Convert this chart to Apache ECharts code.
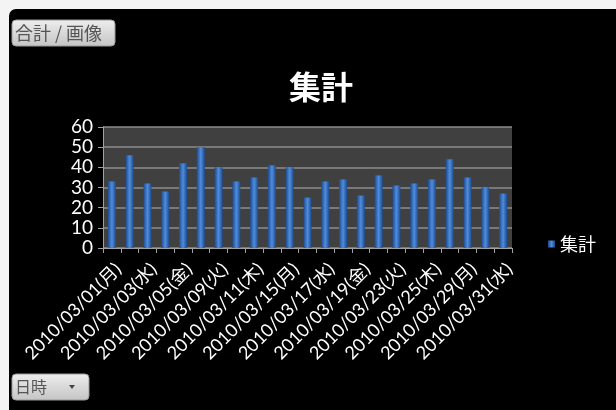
<!DOCTYPE html>
<html>
<head>
<meta charset="utf-8">
<script src="https://cdn.jsdelivr.net/npm/echarts@6/dist/echarts.min.js"></script>
<style>
html,body{margin:0;padding:0;background:#f4f4f4;}
#chart{width:616px;height:410px;}
</style>
</head>
<body>
<div id="chart"></div>
<script>
var categories = ['2010/03/01(月)','2010/03/02(火)','2010/03/03(水)','2010/03/04(木)','2010/03/05(金)',
  '2010/03/08(月)','2010/03/09(火)','2010/03/10(水)','2010/03/11(木)','2010/03/12(金)',
  '2010/03/15(月)','2010/03/16(火)','2010/03/17(水)','2010/03/18(木)','2010/03/19(金)',
  '2010/03/22(月)','2010/03/23(火)','2010/03/24(水)','2010/03/25(木)','2010/03/26(金)',
  '2010/03/29(月)','2010/03/30(火)','2010/03/31(水)'];
var totals = [33,46,32,28,42,50,40,33,35,41,40,25,33,34,26,36,31,32,34,44,35,30,27];
var seriesName = '集計';
var titleText = '集計';
var fieldButton = '合計 / 画像';
var axisButton = '日時';

var font = "Lato, 'Noto Sans CJK JP', sans-serif";
var chart = echarts.init(document.getElementById('chart'));
var barColor = new echarts.graphic.LinearGradient(0,0,1,0,[
  {offset:0,color:'#1d4a8f'},{offset:0.5,color:'#4f8ddc'},{offset:1,color:'#1d4a8f'}]);
var btnFill = new echarts.graphic.LinearGradient(0,0,0,1,[
  {offset:0,color:'#eeeeee'},{offset:1,color:'#c4c4c4'}]);

chart.setOption({
  backgroundColor: '#f4f4f4',
  animation: false,
  graphic: [
    {type:'rect', shape:{x:9,y:9,width:620,height:410,r:[7,0,0,0]}, style:{fill:'#000'}, z:-10},
    {type:'rect', shape:{x:12,y:20,width:103,height:26,r:4}, style:{fill:btnFill, stroke:'#999', lineWidth:1}},
    {type:'text', x:15, y:33, style:{text:fieldButton, fill:'#555', font:"18px 'Noto Sans CJK JP'", verticalAlign:'middle'}},
    {type:'rect', shape:{x:12,y:374,width:77,height:26,r:4}, style:{fill:btnFill, stroke:'#999', lineWidth:1}},
    {type:'text', x:15, y:387, style:{text:axisButton, fill:'#555', font:"16px 'Noto Sans CJK JP'", verticalAlign:'middle'}},
    {type:'polygon', shape:{points:[[69,385],[75,385],[72,389]]}, style:{fill:'#444'}}
  ],
  title: {
    text: titleText, left: 284, top: 66,
    textStyle: {color:'#fff', fontSize: 32, fontWeight:'bold', fontFamily:"'Noto Sans CJK JP'"}
  },
  legend: {
    data:[{name:seriesName, icon:'rect'}], left: 543, top: 230, orient:'vertical',
    itemWidth: 7, itemHeight: 7, itemGap: 4,
    textStyle:{color:'#fff', fontSize:18, fontFamily:"'Noto Sans CJK JP'"}
  },
  grid: {left:103, right:104, top:127, bottom:162, show:true, backgroundColor:'#404040', borderWidth:0},
  xAxis: {
    type:'category', data: categories,
    axisLine:{lineStyle:{color:'#a0a0a0'}},
    axisTick:{show:true, interval:0, length:5, lineStyle:{color:'#a0a0a0'}},
    axisLabel:{interval:1, rotate:45, color:'#fff', fontSize:18, fontFamily:font, margin:12, verticalAlign:'top'}
  },
  yAxis: {
    type:'value', min:0, max:60, interval:10,
    axisLine:{show:true, lineStyle:{color:'#a0a0a0'}},
    axisTick:{show:true, length:5, lineStyle:{color:'#a0a0a0'}},
    splitLine:{lineStyle:{color:'#8c8c8c', width:1.5}},
    axisLabel:{color:'#fff', fontSize:19, fontFamily:font, margin:10}
  },
  series: [{
    name: seriesName, type:'bar', data: totals, barWidth: 8,
    itemStyle:{color: barColor}
  }]
});
</script>
</body>
</html>
